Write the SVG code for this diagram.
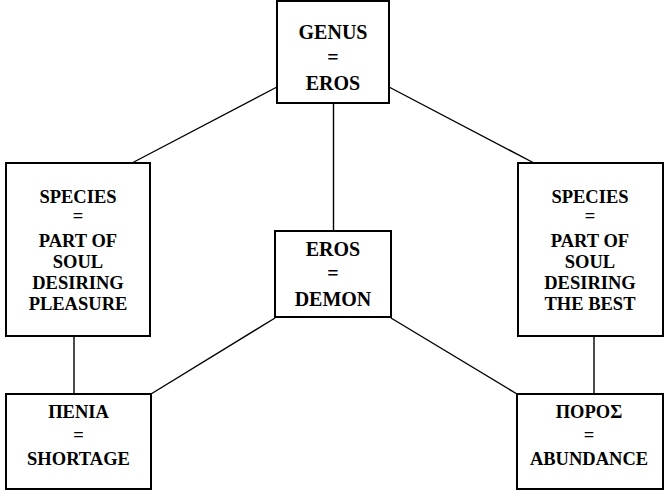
<svg xmlns="http://www.w3.org/2000/svg" width="666" height="497" viewBox="0 0 666 497">
<style>
.box{fill:#fff;stroke:#000;stroke-width:2}
.t{font-family:"Liberation Serif","Times New Roman",serif;font-weight:bold;text-anchor:middle;fill:#000}
.big{font-size:20px}
.sm{font-size:18.5px}
.con{stroke:#000;stroke-width:1.4;fill:none}
</style>
<rect width="666" height="497" fill="#fff"/>
<g id="connectors">
<line class="con" x1="277" y1="87" x2="132" y2="163"/>
<line class="con" x1="389" y1="87" x2="534" y2="163"/>
<line class="con" x1="333.5" y1="103" x2="333.5" y2="231"/>
<line class="con" x1="74" y1="336" x2="74" y2="394"/>
<line class="con" x1="594" y1="336" x2="594" y2="394"/>
<line class="con" x1="275" y1="318" x2="151" y2="394"/>
<line class="con" x1="391" y1="318" x2="517" y2="394"/>
</g>
<g id="genus">
<rect class="box" x="277" y="1" width="112" height="102"/>
<text class="t big" x="333" y="39">GENUS</text>
<text class="t big" x="333" y="64">=</text>
<text class="t big" x="333" y="90">EROS</text>
</g>
<g id="species-pleasure">
<rect class="box" x="6" y="163" width="144" height="173"/>
<text class="t sm" x="78" y="203">SPECIES</text>
<text class="t sm" x="78" y="222">=</text>
<text class="t sm" x="78" y="247">PART OF</text>
<text class="t sm" x="78" y="268">SOUL</text>
<text class="t sm" x="78" y="289">DESIRING</text>
<text class="t sm" x="78" y="310">PLEASURE</text>
</g>
<g id="species-best">
<rect class="box" x="518" y="163" width="145" height="173"/>
<text class="t sm" x="590" y="203">SPECIES</text>
<text class="t sm" x="590" y="222">=</text>
<text class="t sm" x="590" y="247">PART OF</text>
<text class="t sm" x="590" y="268">SOUL</text>
<text class="t sm" x="590" y="289">DESIRING</text>
<text class="t sm" x="590" y="310">THE BEST</text>
</g>
<g id="demon">
<rect class="box" x="275" y="231" width="116" height="86"/>
<text class="t big" x="333" y="256">EROS</text>
<text class="t big" x="333" y="280">=</text>
<text class="t big" x="333" y="306">DEMON</text>
</g>
<g id="penia">
<rect class="box" x="6" y="394" width="145" height="95"/>
<text class="t sm" x="78.5" y="418">ΠΕΝΙΑ</text>
<text class="t sm" x="78.5" y="441">=</text>
<text class="t sm" x="78.5" y="465">SHORTAGE</text>
</g>
<g id="poros">
<rect class="box" x="517" y="394" width="146" height="95"/>
<text class="t sm" x="589" y="418">ΠΟΡΟΣ</text>
<text class="t sm" x="589" y="441">=</text>
<text class="t sm" x="589" y="465">ABUNDANCE</text>
</g>
</svg>
